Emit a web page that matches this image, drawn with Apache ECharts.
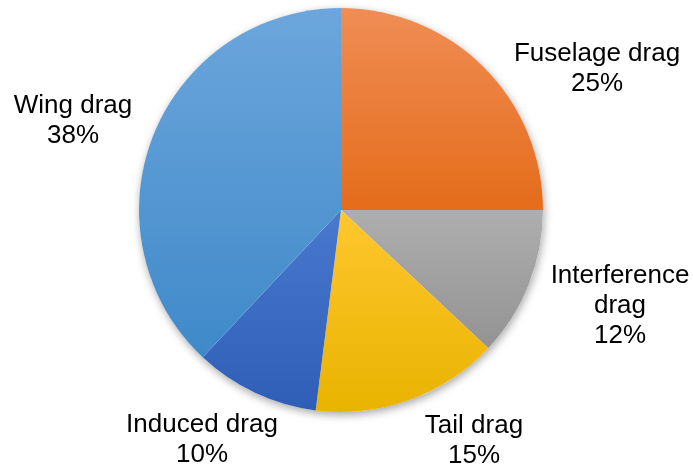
<!DOCTYPE html>
<html>
<head>
<meta charset="utf-8">
<script src="https://cdn.jsdelivr.net/npm/echarts@6/dist/echarts.min.js"></script>
<style>html,body{margin:0;padding:0;background:#fff}#c{width:693px;height:470px}</style>
</head>
<body>
<div id="c"></div>
<script>
const categories = ['Fuselage drag', 'Interference drag', 'Tail drag', 'Induced drag', 'Wing drag'];
const labelTexts = ['Fuselage drag', 'Interference\ndrag', 'Tail drag', 'Induced drag', 'Wing drag'];
const values = [25, 12, 15, 10, 38];
const colorTop = ['#F08D55', '#AEAEAE', '#FFC72E', '#4A78CF', '#6CA6DC'];
const colorBottom = ['#E46C1A', '#939393', '#E9B300', '#2E5EB6', '#3F89C9'];
const labelPos = [[597, 69], [620, 306], [474, 441], [202, 440], [73, 121]];

const chart = echarts.init(document.getElementById('c'), null, {renderer: 'canvas'});
const total = values.reduce((a, b) => a + b, 0);
chart.setOption({
  animation: false,
  series: [
    {
      type: 'pie', silent: true, z: 1,
      center: [341, 210], radius: 202,
      label: {show: false}, labelLine: {show: false},
      itemStyle: {color: '#ffffff', shadowBlur: 9, shadowOffsetX: 1, shadowOffsetY: 3, shadowColor: 'rgba(0,0,0,0.35)'},
      data: [{value: total, name: 'all'}]
    },
    {
      type: 'pie', z: 2,
      center: [341, 210], radius: 202,
      startAngle: 90, clockwise: true,
      data: categories.map((c, i) => ({
        name: c, value: values[i],
        itemStyle: {
          color: new echarts.graphic.LinearGradient(0, 0, 0, 1, [
            {offset: 0, color: colorTop[i]}, {offset: 1, color: colorBottom[i]}
          ])
        }
      })),
      itemStyle: {borderWidth: 0},
      label: {
        show: true, position: 'outside', overflow: 'none', width: 300,
        formatter: p => labelTexts[p.dataIndex] + '\n' + p.percent.toFixed(0) + '%',
        fontFamily: 'Liberation Sans, Arial, sans-serif',
        fontSize: 26, lineHeight: 30, color: '#000', align: 'center'
      },
      labelLine: {show: false},
      labelLayout: p => ({
        x: labelPos[p.dataIndex][0], y: labelPos[p.dataIndex][1],
        align: 'center', verticalAlign: 'middle'
      }),
      emphasis: {disabled: true}
    }
  ]
});
</script>
</body>
</html>
